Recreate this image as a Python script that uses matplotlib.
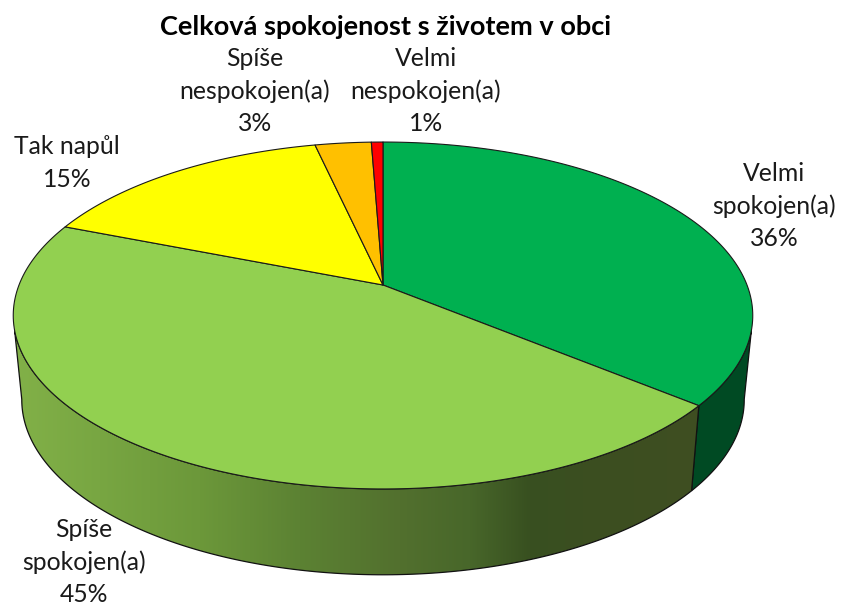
import numpy as np
import matplotlib
matplotlib.use('Agg')
import matplotlib.pyplot as plt
from matplotlib.patches import Polygon

plt.rcParams['font.family'] = ['Lato', 'DejaVu Sans']

# data
title = 'Celková spokojenost s životem v obci'
categories = ['Velmi\nspokojen(a)', 'Spíše\nspokojen(a)', 'Tak napůl',
              'Spíše\nnespokojen(a)', 'Velmi\nnespokojen(a)']
values = [36, 45, 15.49, 2.91, 0.6]
top_colors = ['#00B050', '#92D050', '#FFFF00', '#FFC000', '#FF0000']

# label centres in pixels
label_pos = [(774, 206), (84, 562), (67, 163), (255, 91), (426, 91)]

# colours along the side of the big slice (x in pixels, rgb)
grad_x = [14, 100, 200, 300, 400, 470, 530, 600, 700]
grad_rgb = [(130, 177, 72), (120, 166, 66), (108, 152, 58), (92, 130, 51), (82, 112, 46),
            (72, 103, 42), (56, 80, 32), (60, 78, 32), (63, 79, 34)]
side_dark = '#004A23'

fig = plt.figure(figsize=(8.42, 6.05), dpi=100)
ax = fig.add_axes([0, 0, 1, 1])


# circle -> screen with a bit of perspective, theta clockwise from the top
def project(theta, x0, y0, b, a, k=0.1758):
    t = np.radians(theta)
    u = np.sin(t)
    v = np.cos(t)
    d = 1 + k * v
    return np.column_stack([x0 + b * u / d, y0 - a * v / d])


def top_rim(theta):
    return project(theta, 383, 285, 364, 168.1)


def low_rim(theta):
    return project(theta, 383, 369, 355.6, 169.6)


edges = np.cumsum([0] + values) / sum(values) * 360

# sides
a1 = edges[1]
tangent_top_r, tangent_low_r = 105, 100
tangent_top_l, tangent_low_l = 255, 260

side_r = np.vstack([top_rim(np.linspace(tangent_top_r, a1, 60)),
                    low_rim(np.linspace(a1, tangent_low_r, 60))])
ax.add_patch(Polygon(side_r, closed=True, fc=side_dark, ec='#111111', lw=0.9, zorder=2))

side_l = np.vstack([top_rim(np.linspace(a1, tangent_top_l, 200)),
                    low_rim(np.linspace(tangent_low_l, a1, 200))])
xs = np.arange(0, 842)
grad = np.stack([np.interp(xs, grad_x, [c[i] for c in grad_rgb]) for i in range(3)], axis=-1)
img = ax.imshow(grad[np.newaxis, :, :].astype(np.uint8), extent=(0, 842, 605, 0),
                aspect='auto', zorder=2, interpolation='bilinear')
patch = Polygon(side_l, closed=True, fc='none', ec='#111111', lw=0.9, zorder=3)
ax.add_patch(patch)
img.set_clip_path(patch)

# top
apex = top_rim(np.array([0.0]))[0] * [1, 0] + [0, 285]
for i in range(len(values)):
    rim = top_rim(np.linspace(edges[i], edges[i + 1], 150))
    ax.add_patch(Polygon(np.vstack([apex, rim]), closed=True, fc=top_colors[i],
                         ec='#1a1a1a', lw=0.8, joinstyle='round', zorder=4))

# labels
for name, val, (lx, ly) in zip(categories, values, label_pos):
    ax.text(lx, ly, f'{name}\n{val:.0f}%', ha='center', va='center', fontsize=17.8,
            linespacing=1.5, color='#1a1a1a', zorder=5)
ax.text(385, 27, title, ha='center', va='center', fontsize=19.5, fontweight='bold',
        color='black', zorder=5)

ax.set_xlim(0, 842)
ax.set_ylim(605, 0)
ax.axis('off')
fig.savefig('out.png', dpi=100)
